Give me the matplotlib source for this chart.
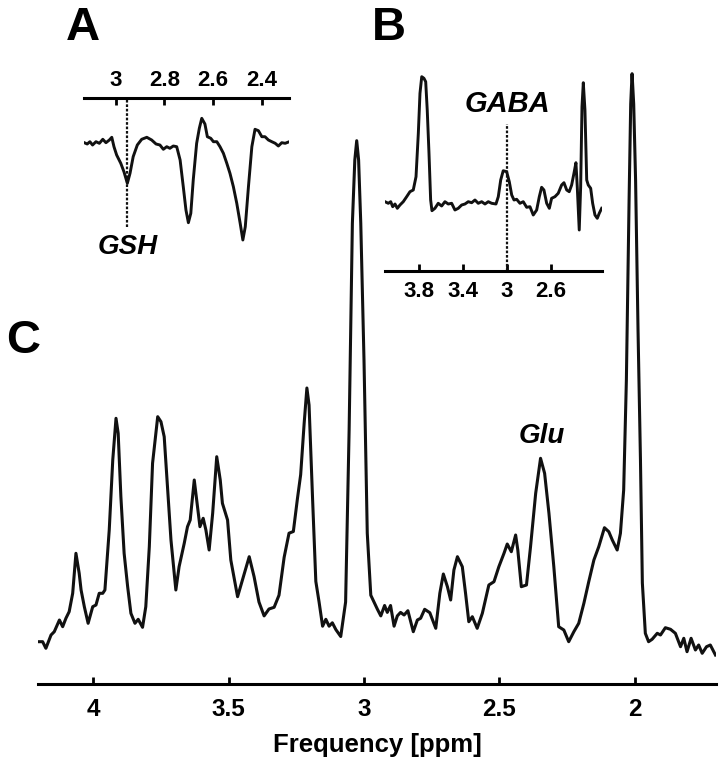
import numpy as np
import matplotlib
matplotlib.use('Agg')
import matplotlib.pyplot as plt
from matplotlib.ticker import FixedLocator, FuncFormatter

plt.rcParams['font.family'] = ['Liberation Sans', 'DejaVu Sans']
plt.rcParams['font.weight'] = 'bold'

###--- Data (ppm, intensity in a.u.) ---###
# C: full spectrum
ppm_c = [4.203, 4.187, 4.175, 4.156, 4.144, 4.125, 4.113, 4.101, 4.089, 4.076,
         4.064, 4.052, 4.045, 4.033, 4.019, 4.002, 3.990, 3.978, 3.965, 3.957,
         3.941, 3.928, 3.916, 3.908, 3.898, 3.886, 3.873, 3.861, 3.846, 3.834,
         3.818, 3.806, 3.793, 3.781, 3.762, 3.750, 3.738, 3.726, 3.713, 3.695,
         3.683, 3.664, 3.652, 3.642, 3.627, 3.615, 3.606, 3.594, 3.584, 3.572,
         3.559, 3.544, 3.531, 3.523, 3.504, 3.492, 3.467, 3.449, 3.424, 3.406,
         3.388, 3.369, 3.351, 3.332, 3.314, 3.295, 3.277, 3.261, 3.246, 3.234,
         3.221, 3.211, 3.203, 3.190, 3.178, 3.166, 3.153, 3.141, 3.129, 3.117,
         3.104, 3.086, 3.068, 3.055, 3.043, 3.034, 3.027, 3.020, 3.012, 3.000,
         2.988, 2.975, 2.963, 2.951, 2.938, 2.924, 2.914, 2.902, 2.889, 2.877,
         2.865, 2.852, 2.838, 2.818, 2.803, 2.791, 2.776, 2.757, 2.735, 2.720,
         2.707, 2.692, 2.680, 2.668, 2.655, 2.637, 2.625, 2.613, 2.600, 2.582,
         2.563, 2.539, 2.520, 2.502, 2.483, 2.471, 2.456, 2.440, 2.432, 2.419,
         2.400, 2.385, 2.366, 2.348, 2.333, 2.317, 2.299, 2.281, 2.262, 2.244,
         2.225, 2.207, 2.188, 2.170, 2.151, 2.133, 2.112, 2.096, 2.083, 2.065,
         2.053, 2.041, 2.031, 2.021, 2.015, 2.010, 2.004, 1.997, 1.988, 1.979,
         1.972, 1.961, 1.949, 1.936, 1.917, 1.905, 1.887, 1.868, 1.850, 1.831,
         1.819, 1.807, 1.792, 1.776, 1.764, 1.751, 1.735, 1.721, 1.702]
int_c = [42.3, 42.3, 35.7, 49, 52.3, 64, 57.3, 65.7, 72.3, 90.7,
         130.7, 110.7, 94, 77.3, 60.7, 77.3, 79, 90.7, 90.7, 94,
         154, 224, 265.7, 250.7, 187.3, 130.7, 97.3, 70.7, 60.7, 64.7,
         56.7, 77.3, 137.3, 220.7, 267.3, 262.3, 247.3, 197.3, 144, 94,
         117.3, 140.7, 157.3, 164, 204, 177.3, 157.3, 165.7, 154, 134,
         170.7, 227.3, 204, 180.7, 164, 124, 87.3, 104, 127.3, 107.3,
         82, 68.1, 75, 76.7, 88.8, 126.7, 150.8, 152.5, 185.2, 209.3,
         261, 296, 279, 185.2, 102.6, 82, 57.8, 64.7, 57.8, 61.2,
         54.4, 47.5, 82, 254, 460.7, 524, 543.3, 524, 460.7, 323,
         150.8, 88.8, 82, 75, 68.1, 78.5, 71.6, 78.5, 57.8, 68.1,
         71.6, 69, 73.3, 52.3, 64, 65.7, 74.7, 71.3, 55.7, 90.7,
         110, 97.3, 84, 114, 127.3, 117.3, 90.7, 62.3, 67.3, 55.7,
         70.7, 99, 102.3, 117.3, 130.7, 140, 132.3, 149, 134, 97.3,
         99, 137.3, 190.7, 225.7, 210.7, 170.7, 117.3, 57.3, 54, 42.3,
         52.3, 60.7, 80.7, 102.3, 124, 137.3, 156.3, 152.3, 144, 134,
         150.7, 194, 304, 484, 580, 610.3, 580, 504, 354, 224,
         101, 50.7, 42.3, 44.7, 50.7, 49, 56.3, 54.7, 50.7, 37.3,
         45.7, 32.3, 45.7, 34, 39, 30.7, 37.3, 39, 29]

# A: GSH edited spectrum
ppm_a = [3.129, 3.117, 3.106, 3.095, 3.081, 3.067, 3.053, 3.040, 3.026, 3.016,
         3.007, 2.996, 2.979, 2.966, 2.952, 2.941, 2.928, 2.911, 2.893, 2.872,
         2.852, 2.834, 2.818, 2.804, 2.790, 2.777, 2.763, 2.749, 2.735, 2.722,
         2.711, 2.701, 2.691, 2.681, 2.667, 2.656, 2.646, 2.633, 2.623, 2.609,
         2.598, 2.584, 2.571, 2.557, 2.543, 2.530, 2.516, 2.502, 2.488, 2.477,
         2.467, 2.454, 2.440, 2.427, 2.413, 2.399, 2.386, 2.372, 2.358, 2.344,
         2.331, 2.317, 2.303, 2.286]
int_a = [-0.7, -2, 0.3, -3, 0.3, -1.3, 2.7, -0.7, 2, 4.7,
         -4.7, -13, -21.3, -29.7, -41.3, -31.3, -14.7, -3, 2.7, 4.7,
         2, -2, -3, -7.3, -4.7, -6.3, -4, -4.7, -18, -44.7,
         -68, -80.7, -71.3, -38, -1.3, 13.7, 23.7, 18, 5.3, 3.7,
         0.3, 0.3, -4.7, -11.3, -21.3, -31.3, -44.7, -61.3, -81.3, -98,
         -84.7, -44.7, -4.7, 12.7, 11.3, 5.3, 5.3, 2, 0.3, -1.3,
         -4, -0.7, -1.3, 0.3]

# B: GABA edited spectrum
ppm_b = [4.109, 4.079, 4.057, 4.039, 4.018, 3.997, 3.973, 3.943, 3.912, 3.882,
         3.852, 3.827, 3.806, 3.791, 3.775, 3.755, 3.739, 3.725, 3.709, 3.694,
         3.682, 3.655, 3.625, 3.594, 3.564, 3.534, 3.503, 3.473, 3.443, 3.412,
         3.382, 3.352, 3.321, 3.291, 3.261, 3.230, 3.200, 3.170, 3.139, 3.100,
         3.079, 3.057, 3.034, 3.003, 2.979, 2.957, 2.936, 2.912, 2.882, 2.852,
         2.821, 2.791, 2.761, 2.730, 2.706, 2.685, 2.664, 2.639, 2.615, 2.594,
         2.564, 2.534, 2.503, 2.482, 2.457, 2.434, 2.412, 2.391, 2.373, 2.361,
         2.343, 2.330, 2.318, 2.306, 2.291, 2.275, 2.261, 2.239, 2.221, 2.200,
         2.179, 2.161, 2.139]
int_b = [2.3, 0.7, 2.3, -2.7, 0, -4.3, -1, 2.3, 7.3, 12.3,
         14, 27.3, 70.7, 110.7, 127.3, 125.7, 122.3, 94, 50.7, 4,
         -6.7, -4.3, 0.7, -2, 2.3, 0, 0.7, -6, -4.3, -1,
         0, 2.3, 1.3, 4, 0.7, 2.3, 0, 2.3, 0.7, 0,
         7.3, 24, 33.3, 32.3, 22.3, 9, 4, 4.7, 0.7, 2.3,
         -3.3, -2.7, -11, -6, 7.3, 16.7, 14, 0.7, -4.3, 5.7,
         7.3, 10.7, 19, 21.3, 14, 12.3, 19, 30.7, 41.3, 17.3,
         -26, 17.3, 97.3, 121.3, 94, 24, 19, 15.7, 0.7, -11,
         -14.3, -9.3, -4.3]

ticks_c = [4, 3.5, 3, 2.5, 2]
ticks_a = [3, 2.8, 2.6, 2.4]
ticks_b = [3.8, 3.4, 3, 2.6]
gsh_ppm, gaba_ppm, glu_ppm = 2.952, 3.0, 2.345

###--- Plotting ---###
W, H = 724, 767
fig = plt.figure(figsize=(W/100, H/100), dpi=100)

def px_rect(x0, y0, x1, y1):
    # pixel box (top-left origin) -> figure fraction [left,bottom,width,height]
    return [x0/W, 1-y1/H, (x1-x0)/W, (y1-y0)/H]

fmt = FuncFormatter(lambda v, pos: '{:g}'.format(v))
lw_sp = 2.2
ink = '#111111'

# Main panel C
ax = fig.add_axes(px_rect(38.3, 34, 716, 684))
ax.plot(ppm_c, int_c, color=ink, lw=2.2, solid_joinstyle='round')
ax.set_xlim(4.203, 1.700)
ax.set_ylim(0, 650)
for s in ['left', 'right', 'top']:
    ax.spines[s].set_visible(False)
ax.spines['bottom'].set_linewidth(lw_sp)
ax.set_yticks([])
ax.xaxis.set_major_locator(FixedLocator(ticks_c))
ax.xaxis.set_major_formatter(fmt)
ax.tick_params(axis='x', direction='in', length=5, width=2, pad=10, labelsize=17.5)
ax.set_xlabel('Frequency [ppm]', fontsize=18.5, fontweight='bold', labelpad=9)
ax.patch.set_alpha(0)
ax.text(glu_ppm, 248, 'Glu', fontsize=20, fontstyle='italic', fontweight='bold',
        ha='center', va='center')

# Inset A
axa = fig.add_axes(px_rect(84.3, 98, 289.3, 260))
axa.plot(ppm_a, int_a, color=ink, lw=2.1, solid_joinstyle='round')
axa.set_xlim(3.129, 2.286)
axa.set_ylim(-118, 44)
for s in ['left', 'right', 'bottom']:
    axa.spines[s].set_visible(False)
axa.spines['top'].set_linewidth(lw_sp)
axa.set_yticks([])
axa.xaxis.tick_top()
axa.xaxis.set_major_locator(FixedLocator(ticks_a))
axa.xaxis.set_major_formatter(fmt)
axa.tick_params(axis='x', direction='in', length=5, width=2, pad=5, labelsize=16)
axa.vlines(gsh_ppm, -85, 44, colors=ink, linestyles=(0, (1.2, 0.8)), lw=1.6)
axa.text(gsh_ppm, -105, 'GSH', fontsize=20, fontstyle='italic', fontweight='bold',
         ha='center', va='center')
axa.patch.set_alpha(0)

# Inset B
axb = fig.add_axes(px_rect(385, 60, 602, 271))
axb.plot(ppm_b, int_b, color=ink, lw=2.1, solid_joinstyle='round')
axb.set_xlim(4.109, 2.136)
axb.set_ylim(-67, 144)
for s in ['left', 'right', 'top']:
    axb.spines[s].set_visible(False)
axb.spines['bottom'].set_linewidth(lw_sp)
axb.set_yticks([])
axb.xaxis.set_major_locator(FixedLocator(ticks_b))
axb.xaxis.set_major_formatter(fmt)
axb.tick_params(axis='x', direction='in', length=5, width=2, pad=7, labelsize=16)
axb.vlines(gaba_ppm, -67, 80, colors=ink, linestyles=(0, (1.2, 0.8)), lw=1.6)
axb.text(gaba_ppm, 100, 'GABA', fontsize=21, fontstyle='italic', fontweight='bold',
         ha='center', va='center')
axb.patch.set_alpha(0)

# Panel letters
for lab, (cx, cy) in {'A': (82.5, 28), 'B': (388.5, 28), 'C': (23, 341)}.items():
    fig.text(cx/W, 1-cy/H, lab, fontsize=34, fontweight='bold', ha='center', va='center')

fig.savefig('out.png', dpi=100)
